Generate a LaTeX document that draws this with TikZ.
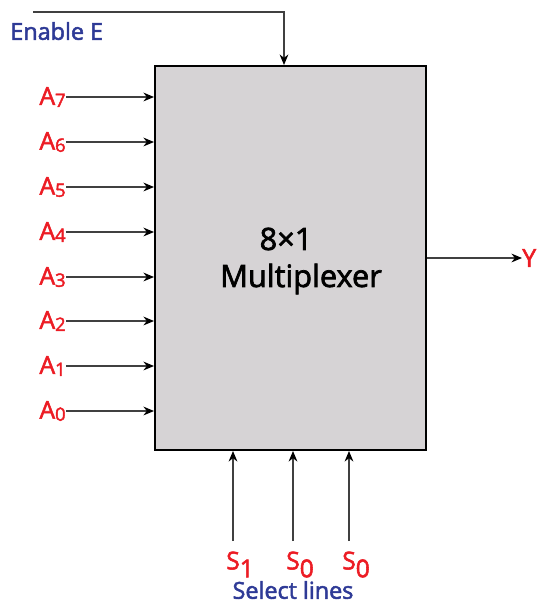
\documentclass[tikz,border=0pt]{standalone}
\usepackage{fontspec}
\setmainfont{Open Sans}[FakeBold=2.2]
\usetikzlibrary{arrows.meta, positioning, calc}
\definecolor{sigred}{RGB}{236,28,36}
\definecolor{capblue}{RGB}{46,58,150}
\definecolor{muxgray}{RGB}{214,211,213}
\newcommand{\inlbl}[1]{A\raisebox{-1.2pt}{\fontsize{10.5}{10.5}\selectfont #1}}
\newcommand{\sellbl}[1]{S\rlap{\raisebox{-4.5pt}{#1}}}
\begin{document}
\begin{tikzpicture}[
  x=0.02cm, y=-0.02cm,
  mux/.style={draw, line width=1.2pt, fill=muxgray, minimum width=5.42cm, minimum height=7.68cm},
  inp/.style={text=sigred, font=\fontsize{14}{14}\selectfont, inner sep=0pt, anchor=east},
  sel/.style={text=sigred, font=\fontsize{14}{14}\selectfont, inner sep=0pt, outer ysep=6pt, anchor=north},
  bluelbl/.style={text=capblue, font=\fontsize{13.3}{13.3}\selectfont},
  sig/.style={draw=black!75, line width=0.7pt, -{Stealth[length=6pt, width=5pt, color=black]}},
]
\useasboundingbox (0,0) rectangle (542,603);

\node[mux] (M) at (290.5,258) {};
\node[font=\fontsize{17.5}{17.5}\selectfont] (T) at (286,239) {8×1};
\node[font=\fontsize{17.5}{17.5}\selectfont] (N) at (301,279) {Multiplexer};

\coordinate (en) at (33,12);
\draw[sig] (en) -| ([xshift=-0.13cm]M.north);
\node[bluelbl, anchor=west, inner sep=0pt] (EN) at (10,31) {Enable E};

\node[inp] (a7) at (66,97)  {\inlbl{7}};
\node[inp] (a6) at (66,142) {\inlbl{6}};
\node[inp] (a5) at (66,187) {\inlbl{5}};
\node[inp] (a4) at (66,232) {\inlbl{4}};
\node[inp] (a3) at (66,277) {\inlbl{3}};
\node[inp] (a2) at (66,321) {\inlbl{2}};
\node[inp] (a1) at (66,366) {\inlbl{1}};
\node[inp] (a0) at (66,411) {\inlbl{0}};
\draw[sig] (a7.east) -- (a7.east -| M.west);
\draw[sig] (a6.east) -- (a6.east -| M.west);
\draw[sig] (a5.east) -- (a5.east -| M.west);
\draw[sig] (a4.east) -- (a4.east -| M.west);
\draw[sig] (a3.east) -- (a3.east -| M.west);
\draw[sig] (a2.east) -- (a2.east -| M.west);
\draw[sig] (a1.east) -- (a1.east -| M.west);
\draw[sig] (a0.east) -- (a0.east -| M.west);

\node[text=sigred, font=\fontsize{14}{14}\selectfont, anchor=west, inner sep=0pt] (Y) at (522,258) {Y};
\draw[sig] (M.east) -- (Y.west);

\node[sel] (s1) at (233,541) {\sellbl{1}};
\node[sel] (s0a) at (293,541) {\sellbl{0}};
\node[sel] (s0b) at (349,541) {\sellbl{0}};
\draw[sig] (s1.north) -- (s1.north |- M.south);
\draw[sig] (s0a.north) -- (s0a.north |- M.south);
\draw[sig] (s0b.north) -- (s0b.north |- M.south);
\node[bluelbl] (SL) at (293,590) {Select lines};

\end{tikzpicture}
\end{document}
